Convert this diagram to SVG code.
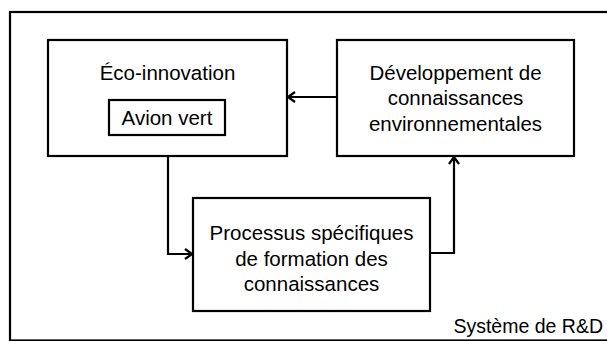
<svg xmlns="http://www.w3.org/2000/svg" width="607" height="341" viewBox="0 0 607 341">
<defs>
<style>
.box{fill:#fff;stroke:#000;stroke-width:2.2}
.frame{fill:none;stroke:#000;stroke-width:2.2}
.conn{fill:none;stroke:#000;stroke-width:2.2}
text{font-family:"Liberation Sans",Arial,sans-serif;font-size:20.5px;fill:#000;text-anchor:middle}
</style>
<marker id="arr" viewBox="0 0 12 12" refX="11" refY="6" markerWidth="12" markerHeight="12" markerUnits="userSpaceOnUse" orient="auto">
<path d="M4,1 L11,6 L4,11" fill="none" stroke="#000" stroke-width="2.2"/>
</marker>
</defs>
<rect class="frame" x="10" y="12" width="610" height="328.5"/>
<g id="eco">
<rect class="box" x="48" y="40" width="239" height="116"/>
<text x="167.5" y="80">Éco-innovation</text>
<g id="avion">
<rect class="box" x="109" y="100" width="116" height="35"/>
<text x="167" y="125">Avion vert</text>
</g>
</g>
<g id="dev">
<rect class="box" x="337" y="40" width="237" height="116"/>
<text x="455.5" y="80">Développement de</text>
<text x="455.5" y="105">connaissances</text>
<text x="455.5" y="131">environnementales</text>
</g>
<g id="proc">
<rect class="box" x="193" y="198" width="237" height="113"/>
<text x="311.5" y="240">Processus spécifiques</text>
<text x="311.5" y="266">de formation des</text>
<text x="311.5" y="291">connaissances</text>
</g>
<text id="rd" x="603" y="333" style="text-anchor:end;font-size:19.5px">Système de R&amp;D</text>
<g id="connectors">
<path class="conn" d="M337,97 L288,97" marker-end="url(#arr)"/>
<path class="conn" d="M168,156 L168,254 L192,254" marker-end="url(#arr)"/>
<path class="conn" d="M430,253 L454,253 L454,157" marker-end="url(#arr)"/>
</g>
</svg>
